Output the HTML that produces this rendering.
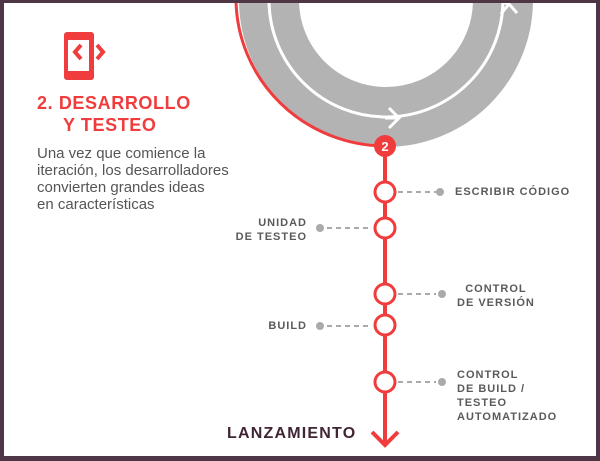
<!DOCTYPE html>
<html><head><meta charset="utf-8"><style>
html,body{margin:0;padding:0;}
body{width:600px;height:461px;overflow:hidden;background:#4f3646;position:relative;font-family:"Liberation Sans",sans-serif;}
.w{position:absolute;left:4px;top:3px;width:592px;height:453px;background:#fff;}
.t{position:absolute;font-weight:bold;color:#5a5a5a;font-size:11px;letter-spacing:1px;line-height:14px;}
</style></head><body>
<div class="w"></div>
<svg style="position:absolute;left:0;top:0" width="600" height="461">
<defs><clipPath id="c"><rect x="4" y="3" width="592" height="453"/></clipPath></defs>
<g clip-path="url(#c)">
<circle cx="386" cy="0" r="117" fill="none" stroke="#b3b3b3" stroke-width="60"/>
<circle cx="386" cy="0" r="117" fill="none" stroke="#fff" stroke-width="3"/>
<path d="M385 118 L398 118 M389 108 L399 118 L389 128" fill="none" stroke="#fff" stroke-width="3"/>
<path d="M499 0 L510 5 M501 14 L509 4 L517 13" fill="none" stroke="#fff" stroke-width="3"/>
<path d="M236 0 A150 148 0 0 0 385 146" fill="none" stroke="#f03c3c" stroke-width="3"/>
</g>
<line x1="385" y1="146" x2="385" y2="445" stroke="#f03c3c" stroke-width="4"/>
<path d="M372 432 L385 445 L398 432" fill="none" stroke="#f03c3c" stroke-width="4"/>
<circle cx="385" cy="146" r="11" fill="#f03c3c"/>
<text x="385" y="151" text-anchor="middle" fill="#fff" font-weight="bold" font-size="13" font-family="Liberation Sans">2</text>
<g stroke="#aaa" stroke-width="2" stroke-dasharray="5 4">
<line x1="398" y1="192" x2="436" y2="192"/>
<line x1="398" y1="294" x2="436" y2="294"/>
<line x1="398" y1="382" x2="436" y2="382"/>
<line x1="327" y1="228" x2="372" y2="228"/>
<line x1="327" y1="326" x2="372" y2="326"/>
</g>
<g fill="#aaa">
<circle cx="440" cy="192" r="4"/><circle cx="442" cy="294" r="4"/><circle cx="442" cy="382" r="4"/>
<circle cx="320" cy="228" r="4"/><circle cx="320" cy="326" r="4"/>
</g>
<g fill="#fff" stroke="#f03c3c" stroke-width="3">
<circle cx="385" cy="192" r="10"/><circle cx="385" cy="228" r="10"/><circle cx="385" cy="294" r="10"/>
<circle cx="385" cy="325" r="10"/><circle cx="385" cy="382" r="10"/>
</g>
<rect x="64" y="32" width="30" height="48" rx="3" fill="#f03c3c"/>
<rect x="68" y="40" width="21" height="31" fill="#fff"/>
<path d="M81 45 L75 52 L81 59 M97 45 L103 52 L97 59" fill="none" stroke="#f03c3c" stroke-width="4"/>
</svg>
<div style="position:absolute;left:37px;top:92px;color:#f03c3c;font-weight:bold;font-size:18px;letter-spacing:0.6px;line-height:22px;">2. DESARROLLO<br><span style="padding-left:26px">Y TESTEO</span></div>
<div style="position:absolute;left:37px;top:145px;color:#555;font-size:15px;line-height:17px;">Una vez que comience la<br>iteración, los desarrolladores<br>convierten grandes ideas<br>en características</div>
<div class="t" style="left:455px;top:185px">ESCRIBIR CÓDIGO</div>
<div class="t" style="right:293px;top:216px;text-align:right">UNIDAD<br>DE TESTEO</div>
<div class="t" style="left:457px;top:282px;text-align:center">CONTROL<br>DE VERSIÓN</div>
<div class="t" style="right:293px;top:319px">BUILD</div>
<div class="t" style="left:457px;top:368px">CONTROL<br>DE BUILD /<br>TESTEO<br>AUTOMATIZADO</div>
<div style="position:absolute;left:227px;top:425px;color:#3f2535;font-weight:bold;font-size:16px;letter-spacing:1.2px;">LANZAMIENTO</div>
</body></html>
